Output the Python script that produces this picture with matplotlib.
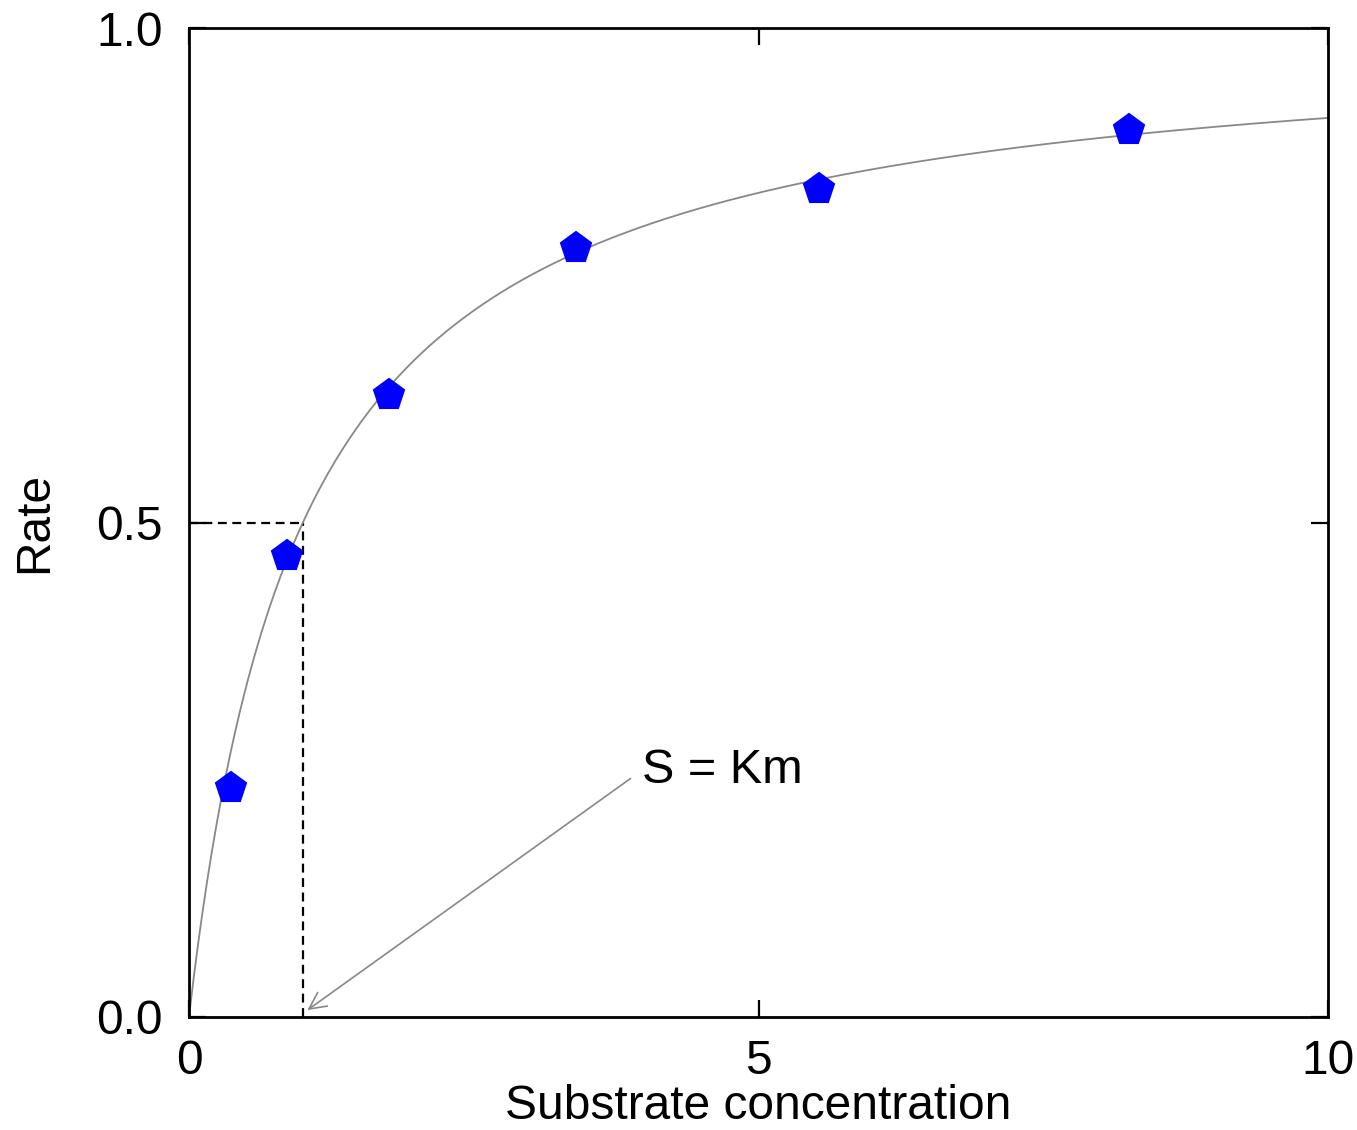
import numpy as np
import matplotlib
matplotlib.use("Agg")
import matplotlib.pyplot as plt

plt.rcParams['font.family'] = ['Liberation Sans', 'DejaVu Sans']

# Data
substrate = [0.37, 0.86, 1.76, 3.40, 5.53, 8.25]
rate = [0.232, 0.466, 0.629, 0.778, 0.837, 0.897]
Vmax = 1.0
Km = 1.0
x_ticks = [0, 5, 10]
y_ticks = [0.0, 0.5, 1.0]
x_ticklabels = ["0", "5", "10"]
y_ticklabels = ["0.0", "0.5", "1.0"]

fig = plt.figure(figsize=(13.57, 11.30), dpi=100)
ax = fig.add_axes([189/1357, (1130-1017)/1130, (1328-189)/1357, (1017-28)/1130])

xs = np.linspace(0, 10, 500)
ax.plot(xs, Vmax * xs / (Km + xs), color='#888888', lw=1.3, zorder=2)

ax.plot(substrate, rate, linestyle='none', marker='p', markersize=23,
        color='#0000ff', markeredgecolor='#0000ff', markeredgewidth=1.5, zorder=3)

ax.plot([0, Km], [Vmax / 2, Vmax / 2], color='black', lw=1.6, ls=(0, (4, 2.5)), zorder=1)
ax.plot([Km, Km], [0, Vmax / 2], color='black', lw=1.6, ls=(0, (4, 2.5)), zorder=1)

ax.annotate("S = Km", xy=(1.04, 0.007), xytext=(3.98, 0.2497),
            fontsize=35, va='center', ha='left',
            arrowprops=dict(arrowstyle='->', color='#888888', lw=1.2,
                            relpos=(0, 0.5), shrinkA=8, shrinkB=0,
                            mutation_scale=30))

ax.set_xlim(0, 10)
ax.set_ylim(0, 1)
ax.set_xticks(x_ticks)
ax.set_xticklabels(x_ticklabels)
ax.set_yticks(y_ticks)
ax.set_yticklabels(y_ticklabels)
ax.tick_params(direction='in', length=12, width=1.6, top=True, right=True,
               labelsize=34.5, pad=19)
ax.tick_params(axis='x', pad=16)
for s in ax.spines.values():
    s.set_linewidth(2)
ax.set_xlabel("Substrate concentration", fontsize=34.5, va='center')
ax.xaxis.set_label_coords(0.5, -0.091)
ax.set_ylabel("Rate", fontsize=34.5, va='center')
ax.yaxis.set_label_coords((35 - 189) / 1139, 0.5)

fig.savefig("out.png", dpi=100)
